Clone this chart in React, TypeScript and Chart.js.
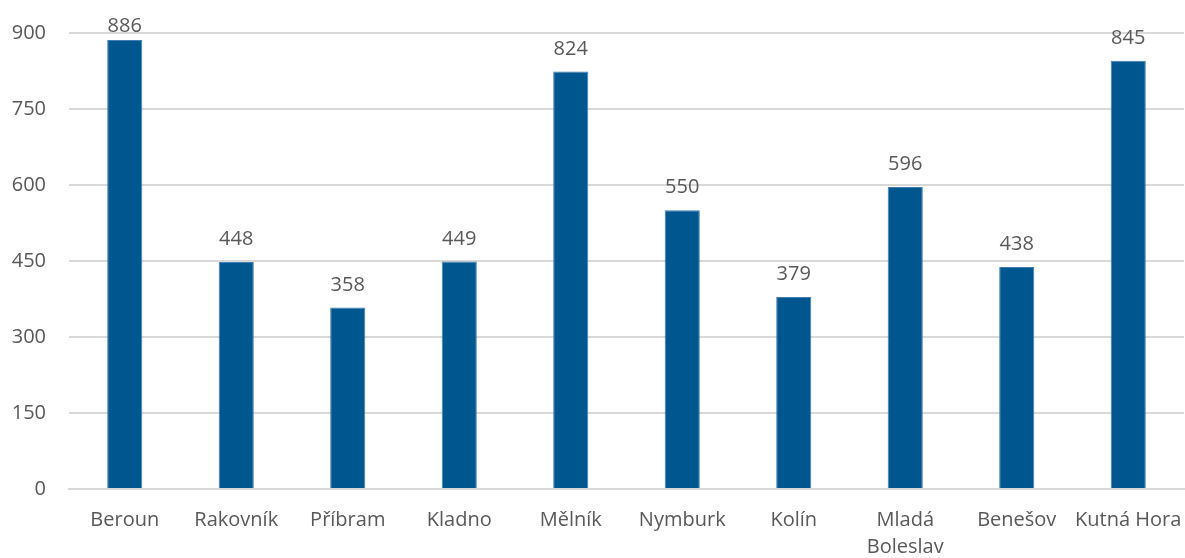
import React, { useEffect, useRef } from "react";
import { Chart, registerables } from "chart.js";

Chart.register(...registerables);

const categories: (string | string[])[] = [
  "Beroun",
  "Rakovník",
  "Příbram",
  "Kladno",
  "Mělník",
  "Nymburk",
  "Kolín",
  ["Mladá", "Boleslav"],
  "Benešov",
  "Kutná Hora",
];
const values: number[] = [886, 448, 358, 449, 824, 550, 379, 596, 438, 845];
const yTicks: number[] = [0, 150, 300, 450, 600, 750, 900];

const FONT = "'Open Sans', 'Liberation Sans', sans-serif";
const TEXT = "#595959";

const dataLabels = {
  id: "dataLabels",
  afterDatasetsDraw(chart: any) {
    const ctx = chart.ctx;
    const meta = chart.getDatasetMeta(0);
    ctx.save();
    ctx.font = `20px ${FONT}`;
    ctx.fillStyle = TEXT;
    ctx.textAlign = "center";
    ctx.textBaseline = "alphabetic";
    meta.data.forEach((bar: any, i: number) => {
      let y = bar.y - 17;
      if (y < 32) y = 32;
      ctx.fillText(String(values[i]), bar.x, y);
    });
    ctx.restore();
  },
};

export default function App() {
  const ref = useRef<HTMLCanvasElement | null>(null);
  useEffect(() => {
    document.body.style.margin = "0";
    const chart = new Chart(ref.current as HTMLCanvasElement, {
      type: "bar",
      data: {
        labels: categories,
        datasets: [
          {
            data: values,
            backgroundColor: "#00568F",
            borderColor: "#3F7FB5",
            borderWidth: 1,
            barPercentage: 0.63,
            categoryPercentage: 0.5,
          },
        ],
      },
      options: {
        animation: false,
        responsive: false,
        maintainAspectRatio: false,
        layout: { padding: { top: 33, right: 1, left: 0, bottom: 0 } },
        plugins: {
          legend: { display: false },
          tooltip: { enabled: false },
        },
        scales: {
          x: {
            grid: { display: false, drawTicks: false },
            border: { display: true, color: "#D9D9D9", width: 2 },
            ticks: {
              color: TEXT,
              font: { family: FONT, size: 20, lineHeight: 1.35 },
              padding: 18,
              maxRotation: 0,
              autoSkip: false,
            },
            afterFit: (s: any) => {
              s.height = 69;
              s.paddingLeft = 0;
              s.paddingRight = 0;
            },
          },
          y: {
            min: 0,
            max: 900,
            afterBuildTicks: (s: any) => {
              s.ticks = yTicks.map((v) => ({ value: v }));
            },
            grid: { color: "#D9D9D9", lineWidth: 2, drawTicks: false },
            border: { display: false },
            ticks: {
              color: TEXT,
              font: { family: FONT, size: 20 },
              padding: 23,
            },
            afterFit: (s: any) => {
              s.width = 69;
              s.paddingTop = 0;
              s.paddingBottom = 0;
            },
          },
        },
      },
      plugins: [dataLabels],
    });
    return () => chart.destroy();
  }, []);
  return (
    <div style={{ position: "absolute", left: 0, top: 0, width: 1185, height: 558 }}>
      <canvas ref={ref} width={1185} height={558} />
    </div>
  );
}
